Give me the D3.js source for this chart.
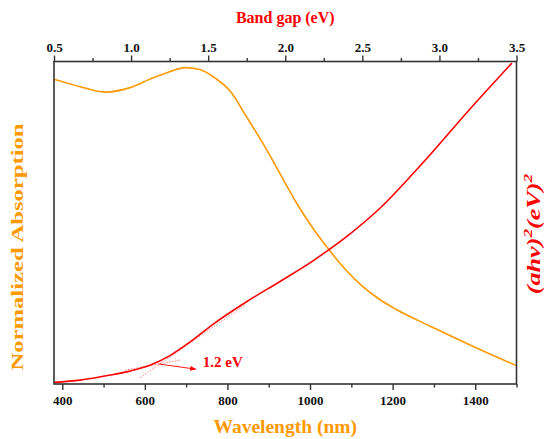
<!DOCTYPE html>
<html lang="en">
<head>
<meta charset="UTF-8">
<title>Absorption and band gap</title>
<script src="https://d3js.org/d3.v7.min.js"></script>
<style>
  body { margin: 0; background: #fff; }
  svg text { font-family: 'Liberation Serif', 'Times New Roman', serif; font-weight: bold; }
</style>
</head>
<body>
<div class="chart"></div>
<script>
// orange curve: normalized absorption vs wavelength (nm)
const wavelength = [380, 443, 503, 564, 612, 660, 697, 733, 773, 806, 846, 886, 927, 967, 1007, 1040, 1088, 1128, 1169, 1209, 1290, 1354, 1394, 1500];
const absorption = [0.945, 0.922, 0.905, 0.919, 0.945, 0.968, 0.981, 0.975, 0.946, 0.909, 0.829, 0.746, 0.653, 0.562, 0.483, 0.426, 0.352, 0.302, 0.262, 0.231, 0.180, 0.141, 0.117, 0.057];

// red curve: (ahv)^2 vs photon energy (eV)
const energy = [0.5, 0.669, 0.831, 0.993, 1.122, 1.252, 1.382, 1.531, 1.749, 1.966, 2.180, 2.270, 2.400, 2.614, 2.828, 2.938, 3.197, 3.47];
const tauc = [0.005, 0.012, 0.025, 0.040, 0.058, 0.088, 0.130, 0.185, 0.255, 0.318, 0.382, 0.412, 0.458, 0.545, 0.652, 0.710, 0.852, 0.995];

// dotted extrapolation lines
const tangentE = [1.058, 1.738], tangentV = [0.019, 0.245];
const baseE = [0.960, 1.317], baseV = [0.043, 0.074];

const nmTicks = [400, 600, 800, 1000, 1200, 1400];
const nmMinor = [500, 700, 900, 1100, 1300, 1500];
const evTicks = [0.5, 1.0, 1.5, 2.0, 2.5, 3.0, 3.5];
const evMinor = [0.75, 1.25, 1.75, 2.25, 2.75, 3.25];

const W = 553, H = 439;
const margin = { top: 61.5, right: 36.5, bottom: 55, left: 54 };
const width = W - margin.left - margin.right;
const height = H - margin.top - margin.bottom;

const root = d3.select('.chart').append('svg').attr('width', W).attr('height', H);
const svg = root.append('g').attr('transform', `translate(${margin.left},${margin.top})`);

const x = d3.scaleLinear().domain([380, 1500]).range([0, width]);
const xe = d3.scaleLinear().domain([0.5, 3.5]).range([0, width]);
const y = d3.scaleLinear().domain([0, 1]).range([height, 0]);

svg.append('clipPath').attr('id', 'clip').append('rect')
  .attr('width', width).attr('height', height);

const plot = svg.append('g').attr('clip-path', 'url(#clip)');

// extrapolation lines
function dotted(es, vs) {
  plot.append('line')
    .attr('x1', xe(es[0])).attr('y1', y(vs[0]))
    .attr('x2', xe(es[1])).attr('y2', y(vs[1]))
    .attr('stroke', '#ff6060').attr('stroke-width', 0.8)
    .attr('stroke-dasharray', '1.5,1.5');
}
dotted(tangentE, tangentV);
dotted(baseE, baseV);

const absLine = d3.line().x((d, i) => x(wavelength[i])).y(d => y(d)).curve(d3.curveMonotoneX);
const taucLine = d3.line().x((d, i) => xe(energy[i])).y(d => y(d)).curve(d3.curveMonotoneX);

plot.append('path').datum(absorption).attr('d', absLine)
  .attr('fill', 'none').attr('stroke', '#ff9900').attr('stroke-width', 1.6);
plot.append('path').datum(tauc).attr('d', taucLine)
  .attr('fill', 'none').attr('stroke', '#ff0000').attr('stroke-width', 1.6);

// arrow + band gap label
svg.append('defs').append('marker').attr('id', 'arr')
  .attr('viewBox', '0 0 10 10').attr('refX', 9).attr('refY', 5)
  .attr('markerWidth', 7).attr('markerHeight', 7).attr('orient', 'auto')
  .append('path').attr('d', 'M0,1 L10,5 L0,9 Z').attr('fill', '#ff0000');
svg.append('line')
  .attr('x1', xe(1.18)).attr('y1', y(0.062))
  .attr('x2', xe(1.42)).attr('y2', y(0.046))
  .attr('stroke', '#ff0000').attr('stroke-width', 0.9).attr('marker-end', 'url(#arr)');
svg.append('text').attr('x', xe(1.465)).attr('y', y(0.052))
  .attr('font-size', 15).attr('fill', '#ff0000').text('1.2 eV');

// frame
svg.append('rect').attr('width', width).attr('height', height)
  .attr('fill', 'none').attr('stroke', '#333').attr('stroke-width', 1.6);

function styleAxis(g) {
  g.select('.domain').remove();
  g.selectAll('line').attr('stroke', '#333').attr('stroke-width', 1.4);
  g.selectAll('text').attr('font-size', 13).attr('fill', '#111')
    .attr('font-family', "'Liberation Serif', 'Times New Roman', serif").attr('font-weight', 'bold');
}

svg.append('g').attr('transform', `translate(0,${height})`)
  .call(d3.axisBottom(x).tickValues(nmTicks).tickSize(6).tickPadding(6).tickFormat(d3.format('d')))
  .call(styleAxis);
svg.append('g').attr('transform', `translate(0,${height})`)
  .call(d3.axisBottom(x).tickValues(nmMinor).tickSize(3.5).tickFormat(''))
  .call(styleAxis);

svg.append('g')
  .call(d3.axisTop(xe).tickValues(evTicks).tickSize(6).tickPadding(4).tickFormat(d3.format('.1f')))
  .call(styleAxis);
svg.append('g')
  .call(d3.axisTop(xe).tickValues(evMinor).tickSize(3.5).tickFormat(''))
  .call(styleAxis);

// axis titles
svg.append('text').attr('x', width / 2).attr('y', -39).attr('text-anchor', 'middle')
  .attr('font-size', 16).attr('fill', '#ff0000').text('Band gap (eV)');

svg.append('text').attr('x', width / 2).attr('y', height + 49).attr('text-anchor', 'middle')
  .attr('font-size', 19.5).attr('fill', '#ff9900').text('Wavelength (nm)');

// the vertical titles are stretched along their length in the original
root.append('text').attr('transform', 'translate(23,247) rotate(-90) scale(1.45,1)')
  .attr('text-anchor', 'middle')
  .attr('font-size', 17).attr('fill', '#ff9900').text('Normalized Absorption');

const rt = root.append('text').attr('transform', 'translate(540,234) rotate(-90) scale(1.45,1)')
  .attr('text-anchor', 'middle')
  .attr('font-size', 18).attr('fill', '#ff0000').attr('font-style', 'italic');
rt.append('tspan').text('(ahv)');
rt.append('tspan').attr('font-size', 12).attr('dy', -8).text('2');
rt.append('tspan').attr('dy', 8).text('(eV)');
rt.append('tspan').attr('font-size', 12).attr('dy', -8).text('2');
</script>
</body>
</html>
